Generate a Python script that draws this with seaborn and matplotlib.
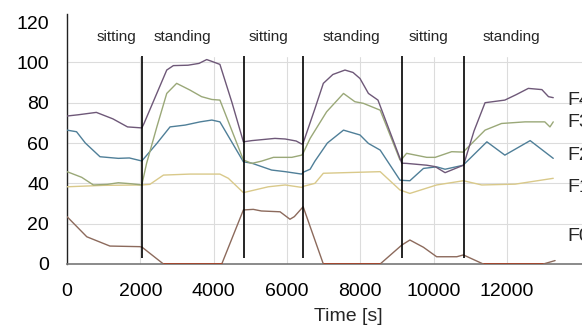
import numpy as np
import matplotlib
matplotlib.use("Agg")
import matplotlib.pyplot as plt
import seaborn as sns

sns.set_theme(style="whitegrid")
plt.rcParams["font.family"] = ["Liberation Sans", "DejaVu Sans"]

# ---- data ----
f4_t = [0, 300, 800, 1250, 1650, 2040, 2100, 2720, 2900, 3300, 3600, 3810, 3950, 4170,
        4500, 4810, 5040, 5670, 5950, 6250, 6400, 6440, 6760, 6990, 7250, 7580, 7800,
        7990, 8220, 8480, 9130, 9260, 9810, 10040, 10310, 10810, 10830, 11100, 11400,
        11940, 12250, 12580, 12950, 13130, 13260]
f4_v = [73.4, 74, 75.2, 72, 68, 67.5, 69.7, 96.2, 98.4, 98.6, 99.5, 101.4, 100.5, 99,
        80, 60.6, 61.2, 62.3, 62, 61, 59.5, 60, 77, 89.6, 94, 96.2, 95,
        92, 84.6, 81.3, 50, 49.9, 49, 48.3, 45.3, 49, 50, 66, 80,
        81.3, 84, 87.1, 86.5, 83, 82.5]

f3_t = [0, 400, 720, 1100, 1400, 1750, 2040, 2170, 2450, 2720, 2990, 3350, 3670, 3950,
        4170, 4810, 5040, 5300, 5630, 6130, 6400, 6440, 6630, 7080, 7540, 7850, 8080,
        8540, 9080, 9130, 9260, 9810, 10040, 10490, 10810, 10830, 11400, 11850, 12490,
        13030, 13170, 13260]
f3_v = [45.8, 43, 39.2, 39.5, 40.3, 39.8, 39.2, 49.9, 68, 84.6, 89.6, 86.3, 83, 81.6,
        81.3, 51.6, 49.9, 51, 52.9, 52.9, 54, 55, 62.3, 75.5, 84.6, 80.5, 79.7,
        76.3, 51.6, 52, 54.9, 52.9, 52.9, 55.7, 55.5, 56, 66.4, 69.7, 70.5,
        70.5, 68, 70.5]

f2_t = [0, 260, 500, 900, 1400, 1700, 2040, 2450, 2810, 3220, 3630, 3950, 4170, 4810,
        5040, 5580, 5950, 6400, 6440, 6630, 6760, 7100, 7540, 7990, 8220, 8540, 9080,
        9130, 9350, 9720, 10080, 10310, 10810, 10830, 11450, 11940, 12630, 13260]
f2_v = [66.4, 65.6, 60, 53.2, 52.4, 52.6, 51.1, 59.8, 68, 68.9, 70.5, 71.4, 70.5, 50.7,
        50, 46.6, 45.8, 44.6, 45.5, 47, 51, 60, 66.4, 64, 59.8, 56.5, 41.6,
        41.5, 41.3, 47.4, 48.2, 47, 49, 49.5, 60.6, 54, 61.2, 52.4]

f1_t = [0, 1000, 2040, 2260, 2630, 3350, 4170, 4400, 4810, 5490, 5950, 6400, 6440, 6760,
        6990, 8540, 9080, 9350, 10080, 10810, 11310, 12220, 13260]
f1_v = [38.3, 39, 39.2, 39.5, 44.1, 44.6, 44.6, 42.5, 35.4, 38.3, 39.2, 38, 38.5, 40,
        45, 45.8, 36.7, 35, 39.2, 41.3, 39.2, 39.6, 42.5]

f0_t = [0, 540, 1170, 1990, 2050, 2630, 4220, 4810, 5080, 5300, 5810, 6080, 6200, 6440,
        6990, 8540, 9130, 9350, 9720, 10080, 10630, 10810, 11350, 12990, 13310]
f0_v = [23.5, 13.5, 8.9, 8.6, 8.3, 0, 0, 26.8, 27.1, 26.3, 25.9, 22.2, 23.5, 28.4,
        0, 0, 9.4, 11.9, 8.3, 3.6, 3.6, 4.5, 0, 0, 1.7]

series_names = ["F0", "F1", "F2", "F3", "F4"]
series_label_y = [13.4, 37.7, 54, 70.4, 81.3]
series_colors = ["#8c6a5c", "#d9c98a", "#4f7f98", "#9aa878", "#6e5878"]

transitions = [2050, 4830, 6440, 9130, 10830]
phases = ["sitting", "standing", "sitting", "standing", "sitting", "standing"]
phase_x = [1360, 3140, 5480, 7750, 9850, 12110]

x_ticks = [0, 2000, 4000, 6000, 8000, 10000, 12000]
y_ticks = [0, 20, 40, 60, 80, 100, 120]

# ---- figure ----
fig = plt.figure(figsize=(5.82, 3.26), dpi=100)
ax = fig.add_axes([67 / 582, 62 / 326, 515 / 582, 250 / 326])

all_t = [f0_t, f1_t, f2_t, f3_t, f4_t]
all_v = [f0_v, f1_v, f2_v, f3_v, f4_v]
for t, v, c in zip(all_t, all_v, series_colors):
    sns.lineplot(x=t, y=v, ax=ax, color=c, lw=1.0, sort=False, zorder=3)

# flat zero stretches of F0 show up darker/red in the reference
f0_arr = np.array(f0_v, dtype=float)
zero_only = np.where(f0_arr == 0, f0_arr, np.nan)
ax.plot(f0_t, zero_only, color="#a5432a", lw=2.0, zorder=3.5, solid_capstyle="butt")

# white band behind the phase labels hides the grid up there
ax.axhspan(103, 130, color="white", zorder=1)
ax.vlines(transitions, 3, 103, color="black", lw=1.2, zorder=4)

for name, x in zip(phases, phase_x):
    ax.text(x, 112.5, name, ha="center", va="center", fontsize=11, zorder=5)

for name, y in zip(series_names, series_label_y):
    ax.text(13635, y, name, ha="left", va="center", fontsize=14, zorder=5,
            clip_on=False)

ax.set_xlim(0, 14044)
ax.set_ylim(0, 124)
ax.set_xticks(x_ticks)
ax.set_yticks(y_ticks)
ax.grid(True, color="#dcdcdc", lw=0.8)
ax.set_axisbelow(True)

for side in ["top", "right"]:
    ax.spines[side].set_visible(False)
ax.spines["left"].set_color("#222222")
ax.spines["bottom"].set_color("#777777")
ax.spines["left"].set_linewidth(1.0)
ax.spines["bottom"].set_linewidth(1.2)

ax.tick_params(axis="both", direction="in", length=3, width=0.8, colors="#555555",
               labelcolor="black", labelsize=14)
ax.tick_params(axis="y", pad=13)
ax.tick_params(axis="x", pad=14, top=True)
for tk in ax.xaxis.get_major_ticks():
    tk.tick2line.set_color("#cccccc")

ax.set_ylabel("")
ax.set_xlabel("Time [s]", fontsize=14)
ax.xaxis.set_label_coords((348 - 67) / 515, -0.176)

fig.savefig("out.png", dpi=100)
